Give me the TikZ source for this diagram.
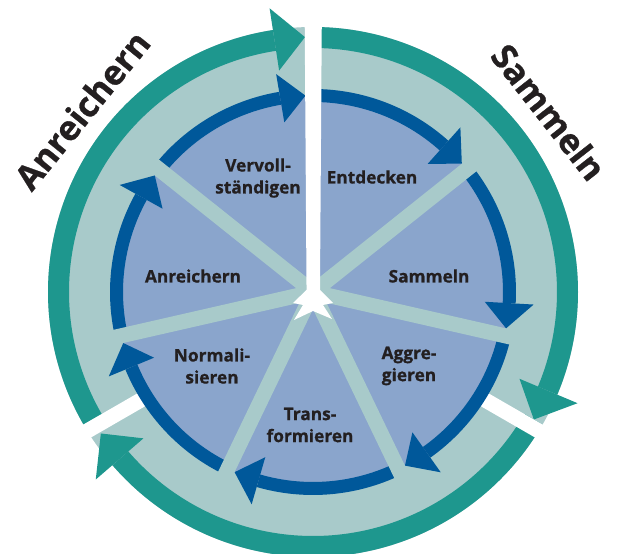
\documentclass[tikz,border=0pt]{standalone}
\usepackage{fontspec}
\setmainfont{Open Sans}[BoldFeatures={FakeBold=0.8}]
\definecolor{tealA}{HTML}{1E978E}
\definecolor{ltealA}{HTML}{A8CACA}
\definecolor{dblueA}{HTML}{00589A}
\definecolor{wedgeA}{HTML}{8AA5CC}
\definecolor{txtA}{HTML}{231F20}
\begin{document}
\begin{tikzpicture}[x=1pt,y=1pt,
  lbl/.style={font=\fontsize{17.3}{22}\selectfont\bfseries, text=txtA, align=center, inner sep=0pt},
  bigl/.style={font=\fontsize{34.5}{40}\selectfont\bfseries, text=txtA, inner sep=0pt},
  tealband/.style={draw=tealA, line width=21pt},
  blueband/.style={draw=dblueA, line width=13pt},
  spokeline/.style={draw=ltealA, line width=15pt},
]
\useasboundingbox (0,0) rectangle (619,554);
\coordinate (C) at (313,262);
\begin{scope}[shift={(C)}]
  % outer light disk
  \fill[ltealA] (0,0) circle[radius=265];
  % outer teal arrows (clockwise)
  \draw[tealband] (90:254.5) arc[start angle=90, end angle=-22.8, radius=254.5];
  \fill[tealA] (-30:255) -- (-22.8:224) -- (-22.8:287) -- cycle;
  \draw[tealband] (-30:254.5) arc[start angle=-30, end angle=-139.2, radius=254.5];
  \fill[tealA] (-146.3:255) -- (-139.2:224) -- (-139.2:287) -- cycle;
  \draw[tealband] (210:254.5) arc[start angle=210, end angle=98.7, radius=254.5];
  \fill[tealA] (91.8:255) -- (98.7:224) -- (98.7:287) -- cycle;
  % lower gaps
  \fill[white, rotate=-30] (0,0) rectangle (300,-15);
  \fill[white, rotate=210] (0,0) rectangle (300,15);
  % inner disk
  \fill[wedgeA] (0,0) circle[radius=197];
  \foreach \k in {0,...,6}{
    \pgfmathsetmacro\sa{90-\k*360/7}
    \pgfmathsetmacro\ba{\sa-360/7+9.6}
    \pgfmathsetmacro\ta{\sa-360/7+2.2}
    \draw[blueband] (\sa:196.5) arc[start angle=\sa, end angle=\ba, radius=196.5];
    \fill[dblueA] (\ta:196.5) -- (\ba:172) -- (\ba:221) -- cycle;
  }
  \foreach \k in {1,...,6}{
    \pgfmathsetmacro\sa{90-\k*360/7}
    \draw[spokeline] (0,0) -- (\sa:212);
  }
  % top white gap and centre star
  \fill[white] (-8.5,300) -- (9,300) -- (7,7) -- (7,2) -- (20,-11) -- (10,-13) -- (19,-27)
     -- (0,-19) -- (-19,-28) -- (-10,-13) -- (-20,-11) -- (-6.5,2) -- (-6.5,7) -- cycle;
\end{scope}
% labels
\node[lbl] (vervoll) at (258,376) {Vervoll-\\ständigen};
\node[lbl] (entd) at (372,377) {Entdecken};
\node[lbl] (samm) at (429,278) {Sammeln};
\node[lbl] (aggr) at (409,188) {Aggre-\\gieren};
\node[lbl] (trans) at (310,129) {Trans-\\formieren};
\node[lbl] (norm) at (212,188) {Normali-\\sieren};
\node[lbl] (anr) at (193,278) {Anreichern};
\node[bigl, rotate=-52] (bigS) at (549,442) {Sammeln};
\node[bigl, rotate=51] (bigA) at (82,444) {Anreichern};
\end{tikzpicture}
\end{document}
